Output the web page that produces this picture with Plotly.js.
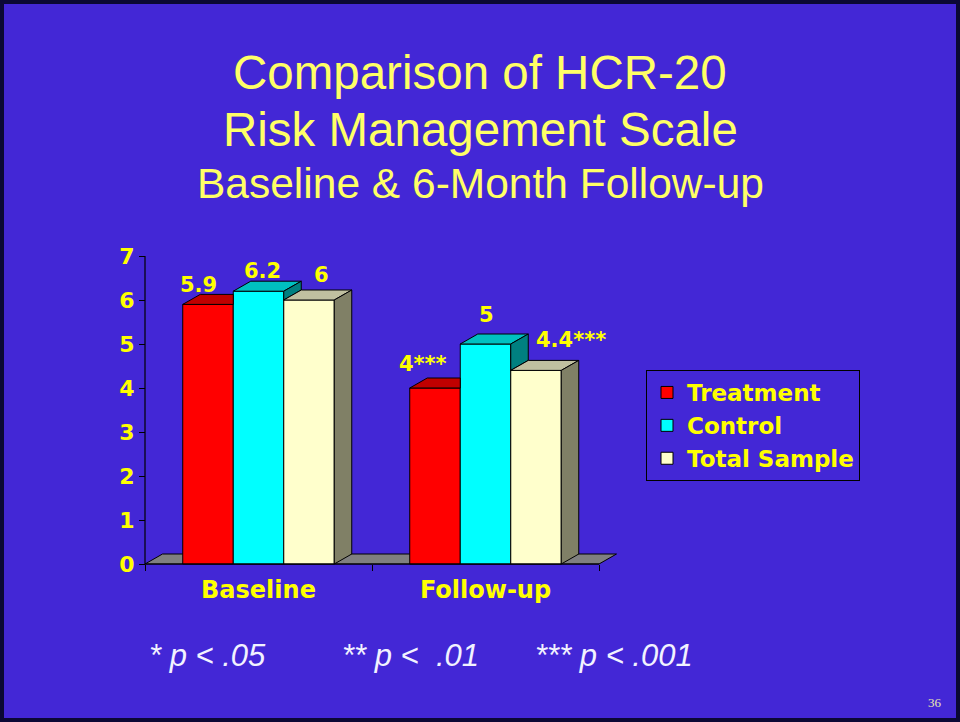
<!DOCTYPE html>
<html>
<head>
<meta charset="utf-8">
<script src="https://cdn.plot.ly/plotly-3.0.1.min.js"></script>
<style>html,body{margin:0;padding:0;background:#4327d6;}</style>
</head>
<body>
<div id="chart" style="width:960px;height:722px;"></div>
<script>
// ---- data ----
const categories = ['Baseline', 'Follow-up'];
const seriesNames = ['Treatment', 'Control', 'Total Sample'];
const treatment = [5.9, 4];
const control = [6.2, 5];
const totalSample = [6, 4.4];
const treatmentLabels = ['5.9', '4***'];
const controlLabels = ['6.2', '5'];
const totalSampleLabels = ['6', '4.4***'];
const yTickValues = [0, 1, 2, 3, 4, 5, 6, 7];
const footnotes = ['* p < .05', '** p <&nbsp; .01', '*** p < .001'];

// ---- styling ----
const BG = '#4327d6';
const frontColors = ['#ff0000', '#00ffff', '#ffffcc'];
const topColors = ['#c00000', '#00c0c0', '#c0c0a0'];
const sideColors = ['#800000', '#008080', '#808066'];
const YELLOW = '#ffff00';
const chartFont = {family: 'DejaVu Sans', weight: 'bold', color: YELLOW};
const BAR_W = 0.2225;           // bar width in category units
const DX = 17.5 / 227;          // 3-D depth, x (category units)
const DY = 10 / 44;             // 3-D depth, y (value units)
const labelDX = [[-9, -11.5], [3.5, 0.5], [12, 35]];
const labelDY = [[19.4, 24], [20.2, 29.5], [25, 30.4]];

const series = [treatment, control, totalSample];
const labels = [treatmentLabels, controlLabels, totalSampleLabels];
const xIdx = categories.map((_, i) => i);

const traces = [];
// front faces (bar traces)
series.forEach((vals, i) => {
  traces.push({
    type: 'bar', x: xIdx, y: vals, name: seriesNames[i],
    width: BAR_W, offset: -1.5 * BAR_W + i * BAR_W,
    marker: {color: frontColors[i], line: {color: '#000', width: 1}},
    legendgroup: seriesNames[i], hoverinfo: 'y'
  });
});
// top & side faces
series.forEach((vals, i) => {
  const tx = [], ty = [], sx = [], sy = [];
  vals.forEach((v, j) => {
    const xl = j - 1.5 * BAR_W + i * BAR_W;
    const xr = xl + BAR_W;
    const next = i < series.length - 1 ? series[i + 1][j] : null;
    // top face
    if (next !== null && next > v) {
      tx.push(xl, xl + DX, xr, xr, xl, null);
      ty.push(v, v + DY, v + DY, v, v, null);
    } else {
      tx.push(xl, xl + DX, xr + DX, xr, xl, null);
      ty.push(v, v + DY, v + DY, v, v, null);
    }
    // side face (visible part)
    const bottom = next !== null ? Math.max(next, 0) : 0;
    if (v > bottom) {
      sx.push(xr, xr + DX, xr + DX, xr, xr, null);
      sy.push(v, v + DY, bottom + DY, bottom, v, null);
    }
  });
  traces.push({type: 'scatter', mode: 'lines', x: tx, y: ty, fill: 'toself',
    fillcolor: topColors[i], line: {color: '#000', width: 1}, showlegend: false, hoverinfo: 'skip'});
  if (sx.length) {
    traces.push({type: 'scatter', mode: 'lines', x: sx, y: sy, fill: 'toself',
      fillcolor: sideColors[i], line: {color: '#000', width: 1}, showlegend: false, hoverinfo: 'skip'});
  }
});

const xMin = -0.5, xMax = categories.length - 0.5;
const annotations = [];
// data labels
series.forEach((vals, i) => {
  vals.forEach((v, j) => {
    annotations.push({
      xref: 'x', yref: 'y', x: j - 1.5 * BAR_W + i * BAR_W + BAR_W / 2, y: v,
      text: labels[i][j], showarrow: false, xanchor: 'center', yanchor: 'middle',
      xshift: labelDX[i][j], yshift: labelDY[i][j],
      font: Object.assign({size: 21}, chartFont)
    });
  });
});
// titles
const titleFont = {family: 'Liberation Sans, Arial, sans-serif', color: '#ffff66'};
annotations.push(
  {xref: 'paper', yref: 'paper', x: 0.5, y: (722 - 72) / 722, text: 'Comparison of HCR-20', showarrow: false,
   xanchor: 'center', yanchor: 'middle', font: Object.assign({size: 47.5}, titleFont)},
  {xref: 'paper', yref: 'paper', x: 0.5, y: (722 - 130) / 722, text: 'Risk Management Scale', showarrow: false,
   xanchor: 'center', yanchor: 'middle', font: Object.assign({size: 47.5}, titleFont)},
  {xref: 'paper', yref: 'paper', x: 0.5, y: (722 - 183) / 722, text: 'Baseline &amp; 6-Month Follow-up', showarrow: false,
   xanchor: 'center', yanchor: 'middle', font: Object.assign({size: 42.5}, titleFont)}
);
// footnotes
const footX = [147, 340, 533];
footnotes.forEach((t, k) => {
  annotations.push({xref: 'paper', yref: 'paper', x: footX[k] / 960, y: (722 - 655) / 722, text: t,
    showarrow: false, xanchor: 'left', yanchor: 'middle',
    font: {family: 'Liberation Sans, Arial, sans-serif', size: 31, style: 'italic', color: '#f2f2ff'}});
});
// slide number
annotations.push({xref: 'paper', yref: 'paper', x: 935 / 960, y: (722 - 702) / 722, text: '36', showarrow: false,
  xanchor: 'center', yanchor: 'middle', font: {family: 'Liberation Serif, Times New Roman, serif', size: 13, color: '#e8e8b0'}});

const shapes = [
  // floor
  {type: 'path', xref: 'x', yref: 'y', layer: 'below',
   path: `M${xMin},0 L${xMin + DX},${DY} L${xMax + DX},${DY} L${xMax},0 Z`,
   fillcolor: '#808080', line: {color: '#000', width: 1}},
  // axis lines
  {type: 'line', xref: 'x', yref: 'y', x0: xMin, x1: xMin, y0: 0, y1: yTickValues[yTickValues.length - 1],
   line: {color: '#000', width: 1.2}},
  {type: 'line', xref: 'x', yref: 'y', x0: xMin, x1: xMax, y0: 0, y1: 0,
   line: {color: '#000', width: 1.2}},
  // slide border
  {type: 'rect', xref: 'paper', yref: 'paper', x0: 0, x1: 1, y0: 0, y1: 1,
   line: {color: '#0b0835', width: 8}, fillcolor: 'rgba(0,0,0,0)'}
];

const layout = {
  width: 960, height: 722, autosize: false,
  margin: {l: 0, r: 0, t: 0, b: 0},
  paper_bgcolor: BG, plot_bgcolor: 'rgba(0,0,0,0)',
  barmode: 'overlay',
  showlegend: true,
  legend: {x: 646 / 960, y: (722 - 370) / 722, xanchor: 'left', yanchor: 'top',
    bgcolor: 'rgba(0,0,0,0)', bordercolor: '#000', borderwidth: 1,
    font: Object.assign({size: 23}, chartFont), tracegroupgap: 0, traceorder: 'normal'},
  xaxis: {
    domain: [130 / 960, 640 / 960], range: [-0.56608, 1.68062],
    anchor: 'free', position: (722 - 564) / 722,
    tickmode: 'array', tickvals: xIdx, ticktext: categories, ticks: '',
    ticklabelstandoff: 9,
    tickfont: Object.assign({size: 24}, chartFont),
    minor: {tickmode: 'array', tickvals: [-0.5, 0.5, 1.5], ticks: 'outside', ticklen: 6, tickcolor: '#000', showgrid: false},
    showgrid: false, zeroline: false, showline: false, fixedrange: true
  },
  yaxis: {
    domain: [(722 - 580) / 722, (722 - 240) / 722], range: [-0.3636, 7.3636],
    anchor: 'free', position: 145 / 960,
    tickmode: 'array', tickvals: yTickValues, ticks: 'outside', ticklen: 6, tickcolor: '#000',
    tickfont: Object.assign({size: 22}, chartFont),
    showgrid: false, zeroline: false, showline: false, fixedrange: true
  },
  annotations: annotations,
  shapes: shapes
};

Plotly.newPlot('chart', traces, layout, {displayModeBar: false, staticPlot: true});
</script>
</body>
</html>
